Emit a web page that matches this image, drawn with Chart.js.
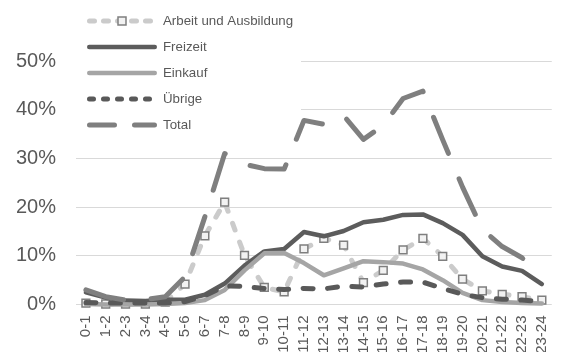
<!DOCTYPE html>
<html>
<head>
<meta charset="utf-8">
<script src="https://cdn.jsdelivr.net/npm/chart.js@4/dist/chart.umd.min.js"></script>
<style>
  html, body { margin: 0; padding: 0; background: #ffffff; }
  #wrap { position: relative; width: 571px; height: 352px; }
</style>
</head>
<body>
<div id="wrap"><canvas id="c"></canvas></div>
<script>
const hours = ["0-1","1-2","2-3","3-4","4-5","5-6","6-7","7-8","8-9","9-10","10-11","11-12",
               "12-13","13-14","14-15","15-16","16-17","17-18","18-19","19-20","20-21","21-22","22-23","23-24"];
const arbeit   = [0.3, 0.1, 0.1, 0.1, 0.5, 4.2, 14.1, 21.0, 10.1, 3.5, 2.6, 11.4, 13.6, 12.2, 4.5, 7.0, 11.2, 13.6, 9.9, 5.2, 2.8, 2.1, 1.6, 0.9];
const freizeit = [2.5, 1.4, 0.8, 0.7, 1.0, 1.0, 2.0, 4.3, 8.0, 10.9, 11.4, 14.9, 14.0, 15.1, 16.9, 17.4, 18.4, 18.5, 16.7, 14.3, 9.9, 7.8, 6.9, 4.2];
const einkauf  = [0.1, 0.0, 0.0, 0.0, 0.1, 0.3, 0.9, 3.0, 7.0, 10.5, 10.6, 8.5, 6.0, 7.4, 8.9, 8.7, 8.4, 7.2, 5.0, 2.4, 0.9, 0.5, 0.3, 0.2];
const uebrige  = [0.4, 0.3, 0.3, 0.3, 0.3, 0.6, 1.8, 3.8, 3.7, 3.3, 3.1, 3.3, 3.2, 3.8, 3.6, 4.2, 4.6, 4.6, 3.3, 2.1, 1.4, 1.1, 0.9, 0.6];
const total    = [3.0, 1.6, 0.9, 1.0, 1.6, 5.7, 18.0, 31.0, 28.8, 27.9, 27.8, 37.8, 37.0, 38.8, 33.9, 36.8, 42.3, 43.8, 33.8, 24.1, 15.4, 11.9, 9.6, 5.8];
const seriesNames = ["Arbeit und Ausbildung", "Freizeit", "Einkauf", "Übrige", "Total"];
const yTicks = [0, 10, 20, 30, 40, 50];

const FONT = "'Liberation Sans', Arial, sans-serif";
const TXT = '#595959';

const legendStyles = [
  { color: '#cbcbcb', width: 5, dash: [5, 9], marker: true },
  { color: '#5c5c5c', width: 4.5, dash: [] },
  { color: '#a5a5a5', width: 4.5, dash: [] },
  { color: '#595959', width: 5, dash: [4, 10] },
  { color: '#7f7f7f', width: 5, dash: [25, 20] }
];

const legendPlugin = {
  id: 'customLegend',
  beforeDatasetsDraw(chart) {
    const ctx = chart.ctx;
    const area = chart.chartArea;
    ctx.save();
    ctx.fillStyle = '#ffffff';
    ctx.fillRect(area.left, 0, 301 - area.left, 138);
    const x0 = 87, x1 = 157;
    chart.data.datasets.forEach((ds, i) => {
      const st = legendStyles[i];
      const y = 21 + i * 26;
      ctx.beginPath();
      ctx.setLineDash(st.dash);
      ctx.lineCap = 'round';
      ctx.strokeStyle = st.color;
      ctx.lineWidth = st.width;
      ctx.moveTo(x0 + st.width / 2, y);
      ctx.lineTo(x1 - st.width / 2, y);
      ctx.stroke();
      ctx.setLineDash([]);
      if (st.marker) {
        ctx.fillStyle = '#f2f2f2';
        ctx.strokeStyle = '#7f7f7f';
        ctx.lineWidth = 1.5;
        ctx.beginPath();
        ctx.rect(122 - 4, y - 4, 8, 8);
        ctx.fill();
        ctx.stroke();
      }
      ctx.fillStyle = TXT;
      ctx.font = '13.3px ' + FONT;
      ctx.textAlign = 'left';
      ctx.textBaseline = 'middle';
      ctx.fillText(ds.label, 163, y);
    });
    ctx.restore();
  }
};

const common = { fill: false, tension: 0, clip: false, pointRadius: 0, pointHoverRadius: 0, borderCapStyle: 'round', borderJoinStyle: 'round' };

new Chart(document.getElementById('c'), {
  type: 'line',
  data: {
    labels: hours,
    datasets: [
      Object.assign({}, common, { label: seriesNames[0], data: arbeit, order: 5,
        borderColor: '#cbcbcb', borderWidth: 5, borderDash: [7, 13],
        pointStyle: 'rect', pointRadius: 5.5, pointBorderWidth: 1.5,
        pointBorderColor: '#7f7f7f', pointBackgroundColor: '#f2f2f2' }),
      Object.assign({}, common, { label: seriesNames[1], data: freizeit, order: 4,
        borderColor: '#5c5c5c', borderWidth: 4.5 }),
      Object.assign({}, common, { label: seriesNames[2], data: einkauf, order: 3,
        borderColor: '#a5a5a5', borderWidth: 4.5 }),
      Object.assign({}, common, { label: seriesNames[3], data: uebrige, order: 2,
        borderColor: '#595959', borderWidth: 5, borderDash: [10, 14.5] }),
      Object.assign({}, common, { label: seriesNames[4], data: total, order: 1,
        borderColor: '#7f7f7f', borderWidth: 5, borderDash: [39, 27.7] })
    ]
  },
  options: {
    responsive: true,
    maintainAspectRatio: false,
    animation: false,
    layout: { padding: { top: 61, left: 0, right: 0, bottom: 0 } },
    plugins: { legend: { display: false }, tooltip: { enabled: false } },
    scales: {
      x: {
        type: 'category',
        offset: true,
        grid: { display: false, drawTicks: false },
        border: { display: false },
        ticks: {
          color: TXT, font: { family: FONT, size: 15 },
          minRotation: 90, maxRotation: 90, autoSkip: false, padding: 11
        },
        afterFit(scale) { scale.height = 47.5; }
      },
      y: {
        min: 0, max: 50,
        afterBuildTicks(scale) { scale.ticks = yTicks.map(v => ({ value: v })); },
        grid: { color: '#d9d9d9', lineWidth: 1, drawTicks: false },
        border: { display: false },
        ticks: {
          color: TXT, font: { family: FONT, size: 20 }, padding: 20,
          callback: v => v + '%'
        },
        afterFit(scale) { scale.width = 76; }
      }
    }
  },
  plugins: [legendPlugin]
});
</script>
</body>
</html>
